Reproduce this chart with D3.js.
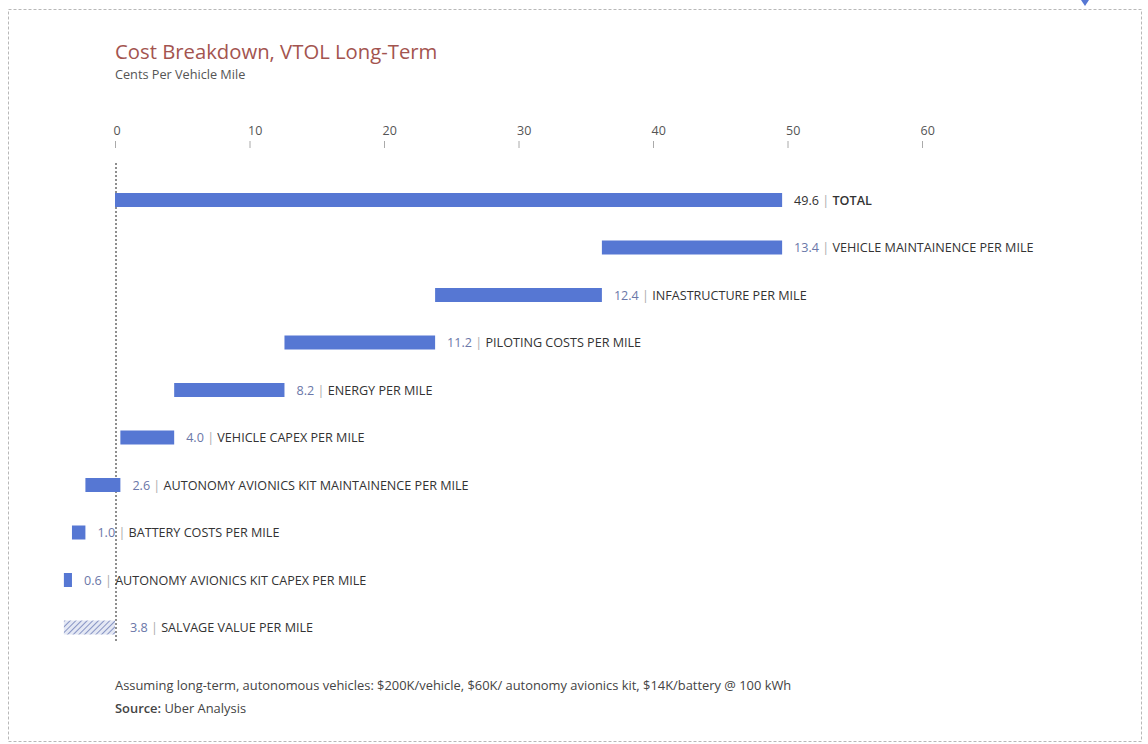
<!DOCTYPE html>
<html>
<head>
<meta charset="utf-8">
<script src="https://cdn.jsdelivr.net/npm/d3@7"></script>
<style>
  html, body { margin: 0; padding: 0; background: #fff; }
  svg { display: block; font-family: "Open Sans", sans-serif; }
</style>
</head>
<body>
<svg id="chart" width="1148" height="744"></svg>
<script>
// ---- data ----
const categories = [
  "TOTAL",
  "VEHICLE MAINTAINENCE PER MILE",
  "INFASTRUCTURE PER MILE",
  "PILOTING COSTS PER MILE",
  "ENERGY PER MILE",
  "VEHICLE CAPEX PER MILE",
  "AUTONOMY AVIONICS KIT MAINTAINENCE PER MILE",
  "BATTERY COSTS PER MILE",
  "AUTONOMY AVIONICS KIT CAPEX PER MILE",
  "SALVAGE VALUE PER MILE"
];
const values = [49.6, 13.4, 12.4, 11.2, 8.2, 4.0, 2.6, 1.0, 0.6, -3.8];
const valueLabels = ["49.6", "13.4", "12.4", "11.2", "8.2", "4.0", "2.6", "1.0", "0.6", "3.8"];
const tickValues = [0, 10, 20, 30, 40, 50, 60];
const titleText = "Cost Breakdown, VTOL Long-Term";
const subtitleText = "Cents Per Vehicle Mile";
const noteText = "Assuming long-term, autonomous vehicles: $200K/vehicle, $60K/ autonomy avionics kit, $14K/battery @ 100 kWh";
const sourceText = "Uber Analysis";

// ---- waterfall spans ----
const rows = [];
let running = values[0];
categories.forEach((c, i) => {
  if (i === 0) {
    rows.push({ cat: c, start: 0, end: values[0], label: valueLabels[i], kind: "total" });
  } else if (values[i] >= 0) {
    rows.push({ cat: c, start: running - values[i], end: running, label: valueLabels[i], kind: "pos" });
    running -= values[i];
  } else {
    rows.push({ cat: c, start: values[i], end: 0, label: valueLabels[i], kind: "neg" });
  }
});

const svg = d3.select("#chart");
const x = d3.scaleLinear().domain([0, 60]).range([115, 922]);
const y = d3.scalePoint().domain(categories).range([200, 627.5]);
const barH = 14;
const barColor = "#5677d3";

// hatch pattern
const defs = svg.append("defs");
const pat = defs.append("pattern")
  .attr("id", "hatch").attr("patternUnits", "userSpaceOnUse")
  .attr("width", 4).attr("height", 4)
  .attr("patternTransform", "rotate(45)");
pat.append("rect").attr("width", 4).attr("height", 4).attr("fill", "#e4e8f4");
pat.append("line").attr("x1", 0).attr("y1", 0).attr("x2", 0).attr("y2", 4)
  .attr("stroke", "#8794c4").attr("stroke-width", 2);

// outer dashed frame
svg.append("rect")
  .attr("x", 8.5).attr("y", 9.5).attr("width", 1133).attr("height", 732)
  .attr("fill", "none").attr("stroke", "#b8b8b8").attr("stroke-width", 1)
  .attr("stroke-dasharray", "3,2");

// small marker at top right
svg.append("path")
  .attr("d", "M1081,0 L1089,0 L1085,6 Z")
  .attr("fill", "#5677d3");

// title
svg.append("text").attr("x", 115).attr("y", 59)
  .attr("font-size", 20.3).attr("fill", "#a3544f").text(titleText);
svg.append("text").attr("x", 115).attr("y", 79)
  .attr("font-size", 12.7).attr("fill", "#555").text(subtitleText);

// axis
const axis = svg.append("g").attr("transform", "translate(0,148)")
  .call(d3.axisTop(x).tickValues(tickValues).tickSize(7).tickPadding(6).tickFormat(d3.format("d")));
axis.select(".domain").remove();
axis.selectAll(".tick line").attr("stroke", "#aaa");
axis.selectAll(".tick text")
  .attr("text-anchor", "start").attr("dx", -2)
  .attr("font-family", "Open Sans, sans-serif")
  .attr("font-size", 12.5).attr("fill", "#555");

// zero dotted line
svg.append("line")
  .attr("x1", x(0) + 1).attr("x2", x(0) + 1).attr("y1", 163).attr("y2", 642)
  .attr("stroke", "#444").attr("stroke-width", 1.2).attr("stroke-dasharray", "2,2");

// bars
svg.append("g").selectAll("rect").data(rows).join("rect")
  .attr("x", d => x(d.start))
  .attr("y", d => y(d.cat) - barH / 2)
  .attr("width", d => x(d.end) - x(d.start))
  .attr("height", barH)
  .attr("fill", d => d.kind === "neg" ? "url(#hatch)" : barColor);

// labels
const lab = svg.append("g").selectAll("text").data(rows).join("text")
  .attr("x", d => x(d.end) + (d.kind === "neg" ? 15 : 12))
  .attr("y", d => y(d.cat) + 4.5)
  .attr("font-size", 12.6);
lab.append("tspan")
  .attr("fill", d => d.kind === "total" ? "#333" : "#6b77a8")
  .text(d => d.label);
lab.append("tspan").attr("fill", "#aaa").text(" | ");
lab.append("tspan")
  .attr("fill", "#333")
  .attr("font-weight", d => d.kind === "total" ? 600 : 400)
  .text(d => d.cat);

// footer
svg.append("text").attr("x", 115).attr("y", 690)
  .attr("font-size", 12.9).attr("fill", "#444").text(noteText);
const src = svg.append("text").attr("x", 115).attr("y", 713)
  .attr("font-size", 12.9).attr("fill", "#444");
src.append("tspan").attr("font-weight", 600).text("Source:");
src.append("tspan").text(" " + sourceText);
</script>
</body>
</html>
